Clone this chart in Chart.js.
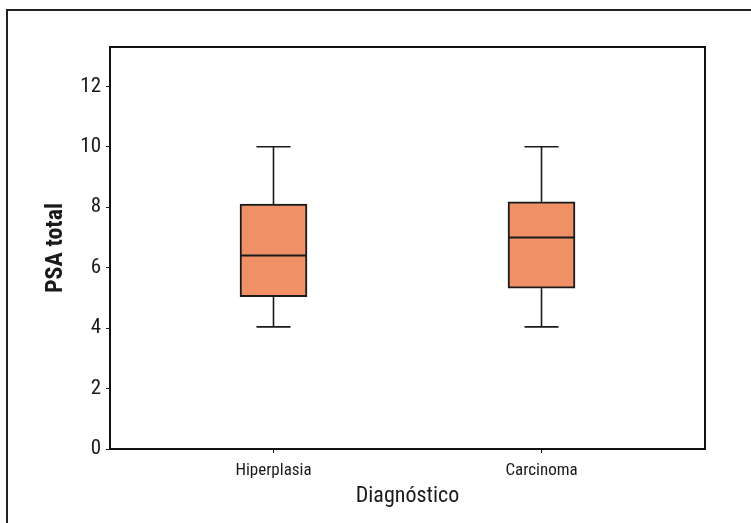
<!DOCTYPE html>
<html>
<head>
<meta charset="utf-8">
<script src="https://cdn.jsdelivr.net/npm/chart.js@4/dist/chart.umd.min.js"></script>
<style>
  html, body { margin: 0; padding: 0; background: #fff; }
  #wrap { width: 751px; height: 523px; position: relative; }
</style>
</head>
<body>
<div id="wrap"><canvas id="c" width="751" height="523"></canvas></div>
<script>
// ---- data ----
const categories = ['Hiperplasia', 'Carcinoma'];
const whiskerLow = [4.04, 4.04];
const q1 = [5.04, 5.32];
const median = [6.40, 7.00];
const q3 = [8.10, 8.18];
const whiskerHigh = [10.0, 10.0];
const yTicks = [0, 2, 4, 6, 8, 10, 12];
const xTitle = 'Diagnóstico';
const yTitle = 'PSA total';

// ---- font detection (pick a narrow face if one is installed) ----
function hasFont(f) {
  const c = document.createElement('canvas').getContext('2d');
  const s = 'Hiperplasia Diagnóstico 0123456789 PSA';
  for (const base of ['monospace', 'serif']) {
    c.font = '40px ' + base;
    const a = c.measureText(s).width;
    c.font = '40px "' + f + '", ' + base;
    const b = c.measureText(s).width;
    if (Math.abs(a - b) > 0.5) return true;
  }
  return false;
}
const candidates = ['Roboto Condensed', 'Liberation Sans Narrow', 'Arial Narrow', 'Nimbus Sans Narrow', 'DejaVu Sans Condensed'];
let FACE = 'DejaVu Sans Condensed';
for (const f of candidates) { if (hasFont(f)) { FACE = f; break; } }
const isDejaVu = FACE === 'DejaVu Sans Condensed';
const FONT = '"' + FACE + '", "DejaVu Sans Condensed", sans-serif';
const SZ = isDejaVu
  ? { yt: 21, xt: 17, xTitle: 21, yTitle: 22, spacing: '-1px' }
  : { yt: 21, xt: 17, xTitle: 22, yTitle: 24, spacing: '0px' };

const INK = '#1a1a1a';
const BOX_FILL = '#EF9066';
const BOX_W = 0.25;   // in x-axis units
const CAP_W = 0.127;

const boxData = categories.map((c, i) => ({ x: i + 1, y: [q1[i], q3[i]] }));

const framePlugin = {
  id: 'frame',
  beforeDraw(chart) {
    const ctx = chart.ctx;
    ctx.save();
    ctx.strokeStyle = '#222';
    ctx.lineWidth = 2;
    ctx.beginPath();
    ctx.moveTo(7, chart.height);
    ctx.lineTo(7, 10);
    ctx.lineTo(chart.width, 10);
    ctx.stroke();
    ctx.restore();
    if ('letterSpacing' in ctx) ctx.letterSpacing = SZ.spacing;
  },
  beforeDatasetsDraw(chart) {
    const ctx = chart.ctx, xs = chart.scales.x, ys = chart.scales.y;
    ctx.save();
    ctx.strokeStyle = INK;
    ctx.lineWidth = 1.6;
    categories.forEach((c, i) => {
      const cx = xs.getPixelForValue(i + 1);
      const hw = (xs.getPixelForValue(i + 1 + CAP_W / 2) - cx);
      const yl = ys.getPixelForValue(whiskerLow[i]);
      const yh = ys.getPixelForValue(whiskerHigh[i]);
      const y1 = ys.getPixelForValue(q1[i]);
      const y3 = ys.getPixelForValue(q3[i]);
      ctx.beginPath();
      ctx.moveTo(cx, yl); ctx.lineTo(cx, y1);
      ctx.moveTo(cx, y3); ctx.lineTo(cx, yh);
      ctx.moveTo(cx - hw, yl); ctx.lineTo(cx + hw, yl);
      ctx.moveTo(cx - hw, yh); ctx.lineTo(cx + hw, yh);
      ctx.stroke();
    });
    ctx.restore();
  },
  afterDatasetsDraw(chart) {
    const ctx = chart.ctx, xs = chart.scales.x, ys = chart.scales.y;
    ctx.save();
    ctx.strokeStyle = INK;
    ctx.lineWidth = 2;
    categories.forEach((c, i) => {
      const cx = xs.getPixelForValue(i + 1);
      const hw = (xs.getPixelForValue(i + 1 + BOX_W / 2) - cx);
      const ym = ys.getPixelForValue(median[i]);
      ctx.beginPath();
      ctx.moveTo(cx - hw, ym); ctx.lineTo(cx + hw, ym);
      ctx.stroke();
    });
    const a = chart.chartArea;
    ctx.strokeStyle = '#111';
    ctx.lineWidth = 2;
    ctx.strokeRect(a.left, a.top, a.right - a.left, a.bottom - a.top);
    ctx.restore();
  }
};

new Chart(document.getElementById('c'), {
  type: 'bar',
  data: {
    datasets: [{
      data: boxData,
      backgroundColor: BOX_FILL,
      borderColor: INK,
      borderWidth: 2,
      borderSkipped: false,
      barThickness: 67
    }]
  },
  options: {
    responsive: false,
    animation: false,
    devicePixelRatio: 1,
    layout: { padding: { top: 47, right: 46, left: 0, bottom: 0 } },
    plugins: { legend: { display: false }, tooltip: { enabled: false } },
    scales: {
      x: {
        type: 'linear',
        min: 0.39,
        max: 2.61,
        offset: false,
        afterBuildTicks: (axis) => { axis.ticks = categories.map((c, i) => ({ value: i + 1 })); },
        afterFit: (axis) => { axis.height = 74; },
        grid: { display: true, offset: false, drawOnChartArea: false, drawTicks: true, tickLength: 4, color: INK, lineWidth: 1 },
        border: { display: false },
        ticks: {
          autoSkip: false,
          maxRotation: 0,
          padding: 8,
          color: INK,
          font: { family: FONT, size: SZ.xt },
          callback: (v) => categories[Math.round(v) - 1] || ''
        },
        title: {
          display: true,
          text: xTitle,
          color: INK,
          font: { family: FONT, size: SZ.xTitle },
          padding: { top: 0, bottom: 13 }
        }
      },
      y: {
        min: 0,
        max: 13.3,
        afterBuildTicks: (axis) => { axis.ticks = yTicks.map(v => ({ value: v })); },
        afterFit: (axis) => { axis.width = 110; },
        grid: { display: true, drawOnChartArea: false, drawTicks: true, tickLength: 4, color: INK, lineWidth: 1 },
        border: { display: false },
        ticks: {
          padding: 5,
          color: INK,
          font: { family: FONT, size: SZ.yt }
        },
        title: {
          display: true,
          text: yTitle,
          color: INK,
          font: { family: FONT, size: SZ.yTitle, weight: 'bold' },
          padding: { top: 42, bottom: 0 }
        }
      }
    }
  },
  plugins: [framePlugin]
});
</script>
</body>
</html>
